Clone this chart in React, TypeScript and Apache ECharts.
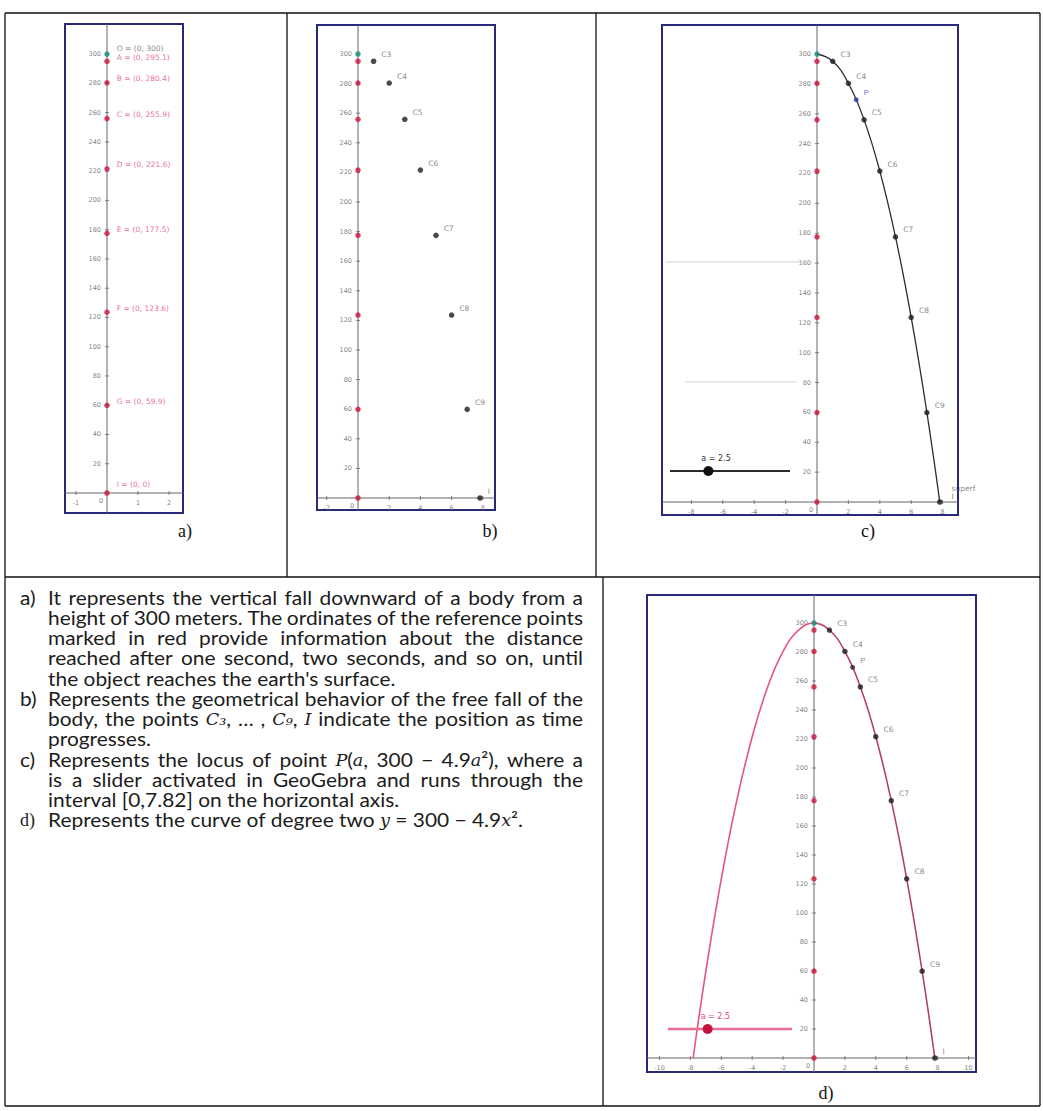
import React, { useEffect, useRef } from "react";
import * as echarts from "echarts";

// Free fall from 300 m: elapsed seconds and height reached at each instant
const fallTimes = [0, 1, 2, 3, 4, 5, 6, 7, 7.82];
const fallHeights = [300, 295.1, 280.4, 255.9, 221.6, 177.5, 123.6, 59.9, 0];
const referenceNames = ["O", "A", "B", "C", "D", "E", "F", "G", "I"];
const positionNames = ["", "C3", "C4", "C5", "C6", "C7", "C8", "C9", "I"];
const heightTicks = [20, 40, 60, 80, 100, 120, 140, 160, 180, 200, 220, 240, 260, 280, 300];
const ticksA = [-1, 0, 1, 2];
const ticksB = [-2, 0, 2, 4, 6, 8];
const ticksC = [-8, -6, -4, -2, 0, 2, 4, 6, 8];
const ticksD = [-10, -8, -6, -4, -2, 0, 2, 4, 6, 8, 10];
const sliderValue = 2.5;
const sliderMax = 7.82;
const pointP = [2.5, 269.4];
const panelCaptions = ["a)", "b)", "c)", "d)"];

const paragraphs = [
  {
    marker: "a)",
    lines: [
      "It represents the vertical fall downward of a body from a",
      "height of 300 meters.  The ordinates of the reference points",
      "marked in red provide information about the distance",
      "reached after one second, two seconds, and so on, until",
      "the object reaches the earth's surface.",
    ],
  },
  {
    marker: "b)",
    lines: [
      "Represents the geometrical behavior of the free fall of the",
      "body, the points {C₃}, … , {C₉}, {I} indicate the position as time",
      "progresses.",
    ],
  },
  {
    marker: "c)",
    lines: [
      "Represents the locus of point {P}({a}, 300 − 4.9{a}²), where a",
      "is a slider activated in GeoGebra and runs through the",
      "interval [0,7.82] on the horizontal axis.",
    ],
  },
  {
    marker: "d)",
    serifMarker: true,
    lines: ["Represents the curve of degree two {y} = 300 − 4.9{x}²."],
  },
];

// Plot boxes of the four GeoGebra views (pixels) and where their origins sit
const boxes = [
  { left: 65, top: 24, right: 183, bottom: 513, ox: 107, oy: 493, sx: 31, sy: 1.463 },
  { left: 317, top: 25, right: 495, bottom: 510, ox: 358, oy: 498, sx: 15.6, sy: 1.48 },
  { left: 662, top: 25, right: 958, bottom: 515, ox: 817, oy: 502, sx: 15.7, sy: 1.4933 },
  { left: 647, top: 595, right: 976, bottom: 1072, ox: 814, oy: 1058, sx: 15.45, sy: 1.45 },
];
const xTickSets = [ticksA, ticksB, ticksC, ticksD];

const AXIS_GRAY = "#666666";
const RED = "#d0143c";
const PINK = "#e2477a";
const TEAL = "#1f8f80";
const TEXT_FONT = "Lato";
const TEXT_SIZE = 19;
const MATH_FONT = "DejaVu Serif";
const MATH_SIZE = 16;
const TEXT_STRETCH = 1.1;

function ranges(b) {
  return {
    xmin: (b.left - b.ox) / b.sx,
    xmax: (b.right - b.ox) / b.sx,
    ymin: (b.oy - b.bottom) / b.sy,
    ymax: (b.oy - b.top) / b.sy,
  };
}

function axesSeries(i) {
  const r = ranges(boxes[i]);
  const common = { xAxisIndex: i, yAxisIndex: i, silent: true };
  const tickLabel = { fontSize: 6.5, color: "#5e5e5e", fontFamily: "DejaVu Sans" };
  return [
    {
      ...common,
      type: "line",
      data: [[r.xmin, 0], [r.xmax, 0]],
      symbol: "none",
      lineStyle: { color: AXIS_GRAY, width: 1 },
      z: 2,
    },
    {
      ...common,
      type: "line",
      data: [[0, r.ymin], [0, r.ymax]],
      symbol: "none",
      lineStyle: { color: AXIS_GRAY, width: 1 },
      z: 2,
    },
    {
      ...common,
      type: "scatter",
      data: heightTicks.map((v) => [0, v]),
      symbol: "rect",
      symbolSize: [4, 1],
      itemStyle: { color: AXIS_GRAY },
      label: {
        show: true,
        position: "left",
        distance: 4,
        ...tickLabel,
        formatter: (p) => String(p.value[1]),
      },
      z: 3,
    },
    {
      ...common,
      type: "scatter",
      data: xTickSets[i].map((v) =>
        v === 0
          ? { value: [0, 0], symbolSize: 0, label: { offset: [-6, 0] } }
          : { value: [v, 0] }
      ),
      symbol: "rect",
      symbolSize: [1, 4],
      itemStyle: { color: AXIS_GRAY },
      label: {
        show: true,
        position: "bottom",
        distance: 4,
        ...tickLabel,
        formatter: (p) => String(p.value[0]),
      },
      z: 3,
    },
  ];
}

function axisPointsSeries(i, withLabels) {
  const common = { xAxisIndex: i, yAxisIndex: i, silent: true, type: "scatter" };
  const labelStyle = {
    show: withLabels,
    position: "right",
    offset: [2, -4],
    fontSize: 7.5,
    fontFamily: "DejaVu Sans",
    formatter: "{b}",
  };
  const last = fallHeights.length - 1;
  return [
    {
      ...common,
      data: fallHeights.slice(1).map((h, k) => ({
        name: `${referenceNames[k + 1]} = (0, ${h})`,
        value: [0, h],
        label: k + 1 === last ? { offset: [2, -9] } : undefined,
      })),
      symbolSize: 5.5,
      itemStyle: { color: RED },
      label: { ...labelStyle, color: PINK },
      z: 6,
    },
    {
      ...common,
      data: [{ name: `${referenceNames[0]} = (0, ${fallHeights[0]})`, value: [0, fallHeights[0]] }],
      symbolSize: 5.5,
      itemStyle: { color: TEAL },
      label: { ...labelStyle, color: "#666", offset: [2, -6] },
      z: 6,
    },
  ];
}

function positionSeries(i, labelColor, lastLabel) {
  return {
    type: "scatter",
    xAxisIndex: i,
    yAxisIndex: i,
    silent: true,
    data: fallTimes.slice(1).map((t, k) => ({
      name: positionNames[k + 1],
      value: [t, fallHeights[k + 1]],
      label: k + 1 === fallTimes.length - 1 && lastLabel ? { formatter: lastLabel, offset: [4, -10] } : undefined,
    })),
    symbolSize: 5.5,
    itemStyle: { color: "#1c1c1c" },
    label: {
      show: true,
      position: "right",
      offset: [0, -7],
      fontSize: 7.5,
      fontFamily: "DejaVu Sans",
      color: labelColor,
      formatter: "{b}",
    },
    z: 7,
  };
}

const fallCurve = fallTimes.map((t, k) => [t, fallHeights[k]]);
const mirroredCurve = fallTimes
  .slice(1)
  .map((t, k) => [-t, fallHeights[k + 1]])
  .reverse()
  .concat(fallCurve);

function buildSeries() {
  const s = [];
  for (let i = 0; i < 4; i++) s.push(...axesSeries(i));

  // a) reference heights on the vertical axis
  s.push(...axisPointsSeries(0, true));

  // b) positions as time goes by
  s.push(...axisPointsSeries(1, false));
  s.push(positionSeries(1, "#666", null));

  // c) locus of P as the slider runs
  s.push(...axisPointsSeries(2, false));
  s.push({
    type: "line",
    xAxisIndex: 2,
    yAxisIndex: 2,
    data: fallCurve,
    smooth: 0.45,
    symbol: "none",
    silent: true,
    lineStyle: { color: "#2e2e2e", width: 1.3 },
    z: 4,
  });
  s.push(positionSeries(2, "#666", "superf\nI"));
  s.push({
    type: "scatter",
    xAxisIndex: 2,
    yAxisIndex: 2,
    silent: true,
    data: [{ name: "P", value: pointP }],
    symbolSize: 5,
    itemStyle: { color: "#2a3aa8" },
    label: {
      show: true,
      position: "right",
      offset: [0, -7],
      fontSize: 7.5,
      color: "#3a4ac0",
      formatter: "{b}",
    },
    z: 8,
  });

  // d) the whole parabola
  s.push(...axisPointsSeries(3, false));
  s.push({
    type: "line",
    xAxisIndex: 3,
    yAxisIndex: 3,
    data: mirroredCurve,
    smooth: 0.45,
    symbol: "none",
    silent: true,
    lineStyle: { color: "#e5557f", width: 1.6 },
    z: 4,
  });
  s.push({
    type: "line",
    xAxisIndex: 3,
    yAxisIndex: 3,
    data: fallCurve,
    smooth: 0.45,
    symbol: "none",
    silent: true,
    lineStyle: { color: "#333", width: 1, opacity: 0.45 },
    z: 5,
  });
  s.push(positionSeries(3, "#666", null));
  s.push({
    type: "scatter",
    xAxisIndex: 3,
    yAxisIndex: 3,
    silent: true,
    data: [{ name: "P", value: pointP }],
    symbolSize: 5,
    itemStyle: { color: "#262626" },
    label: {
      show: true,
      position: "right",
      offset: [0, -7],
      fontSize: 7.5,
      color: "#666",
      formatter: "{b}",
    },
    z: 8,
  });
  return s;
}

function sliderElements(x1, x2, y, lineColor, lineWidth, dotColor, labelColor) {
  const dotX = x1 + (sliderValue / sliderMax) * (x2 - x1);
  return [
    {
      type: "line",
      z: 100,
      shape: { x1, y1: y, x2, y2: y },
      style: { stroke: lineColor, lineWidth },
    },
    {
      type: "circle",
      z: 101,
      shape: { cx: dotX, cy: y, r: 5 },
      style: { fill: dotColor },
    },
    {
      type: "text",
      z: 101,
      x: dotX - 7,
      y: y - 13,
      style: {
        text: `a = ${sliderValue}`,
        fill: labelColor,
        fontSize: 8,
        fontFamily: "DejaVu Sans",
        align: "left",
        verticalAlign: "middle",
        textAlign: "left",
        textVerticalAlign: "middle",
      },
    },
  ];
}

function tableElements() {
  const stroke = { stroke: "#111", lineWidth: 1.3 };
  const lines = [
    [5, 13, 1040, 13],
    [5, 1106, 1040, 1106],
    [5, 13, 5, 1106],
    [1040, 13, 1040, 1106],
    [5, 577, 1040, 577],
    [287, 13, 287, 577],
    [596, 13, 596, 577],
    [603, 577, 603, 1106],
  ];
  return lines.map(([x1, y1, x2, y2]) => ({
    type: "line",
    z: 50,
    shape: { x1, y1, x2, y2 },
    style: stroke,
  }));
}

function captionElements() {
  const spots = [
    [185, 531],
    [490, 531],
    [868, 531],
    [826, 1093],
  ];
  return panelCaptions.map((t, k) => ({
    type: "text",
    z: 60,
    x: spots[k][0],
    y: spots[k][1],
    style: {
      text: t,
      fill: "#111",
      fontSize: 18,
      fontFamily: "Liberation Serif",
      align: "center",
      verticalAlign: "middle",
      textAlign: "center",
      textVerticalAlign: "middle",
    },
  }));
}

function faintLines() {
  const grey = { stroke: "#d4d4d4", lineWidth: 1 };
  return [
    { type: "line", z: 10, shape: { x1: 666, y1: 262, x2: 812, y2: 262 }, style: grey },
    { type: "line", z: 10, shape: { x1: 685, y1: 382, x2: 797, y2: 382 }, style: grey },
  ];
}

function parseWord(w) {
  const segs = [];
  const re = /\{([^}]*)\}|[^{]+/g;
  let m;
  while ((m = re.exec(w))) {
    if (m[1] !== undefined) segs.push({ t: m[1], math: true });
    else segs.push({ t: m[0], math: false });
  }
  return segs;
}

function textElements() {
  const canvas = document.createElement("canvas");
  const ctx = canvas.getContext("2d");
  const fontOf = (seg) =>
    seg.math ? `italic ${MATH_SIZE}px "${MATH_FONT}"` : `${TEXT_SIZE}px "${TEXT_FONT}"`;
  const measure = (seg) => {
    ctx.font = fontOf(seg);
    return ctx.measureText(seg.t).width * TEXT_STRETCH;
  };
  const els = [];
  const x0 = 48;
  const x1 = 583;
  const markerX = 20;
  const top = 597;
  const step = 20.25;
  let lineNo = 0;
  const textStyle = (seg) => ({
    fill: "#1c1c1c",
    fontSize: seg.math ? MATH_SIZE : TEXT_SIZE,
    fontFamily: seg.math ? MATH_FONT : TEXT_FONT,
    fontStyle: seg.math ? "italic" : "normal",
    align: "left",
    verticalAlign: "middle",
    textAlign: "left",
    textVerticalAlign: "middle",
  });
  paragraphs.forEach((para) => {
    const yMarker = top + lineNo * step;
    els.push({
      type: "text",
      z: 60,
      x: markerX,
      y: yMarker,
      scaleX: para.serifMarker ? 1 : TEXT_STRETCH,
      style: {
        text: para.marker,
        fill: "#1c1c1c",
        fontSize: para.serifMarker ? 18 : TEXT_SIZE,
        fontFamily: para.serifMarker ? "Liberation Serif" : TEXT_FONT,
        align: "left",
        verticalAlign: "middle",
        textAlign: "left",
        textVerticalAlign: "middle",
      },
    });
    para.lines.forEach((line, li) => {
      const y = top + lineNo * step;
      const justify = li < para.lines.length - 1;
      const words = line.split(/\s+/).filter(Boolean).map(parseWord);
      const widths = words.map((w) => w.reduce((s, seg) => s + measure(seg), 0));
      const total = widths.reduce((a, b) => a + b, 0);
      const space = measure({ t: " ", math: false });
      const gap = justify && words.length > 1 ? (x1 - x0 - total) / (words.length - 1) : space;
      let x = x0;
      words.forEach((w) => {
        w.forEach((seg) => {
          els.push({
            type: "text",
            z: 60,
            x,
            y: seg.math ? y + 1 : y,
            scaleX: TEXT_STRETCH,
            style: { text: seg.t, ...textStyle(seg) },
          });
          x += measure(seg);
        });
        x += gap;
      });
      lineNo += 1;
    });
  });
  return els;
}

export default function App() {
  const ref = useRef(null);
  useEffect(() => {
    if (!ref.current) return;
    const chart = echarts.init(ref.current, null, { renderer: "svg" });
    const option = {
      animation: false,
      backgroundColor: "#ffffff",
      grid: boxes.map((b) => ({
        left: b.left,
        top: b.top,
        width: b.right - b.left,
        height: b.bottom - b.top,
        show: true,
        backgroundColor: "#ffffff",
        borderColor: "#29297a",
        borderWidth: 2,
      })),
      xAxis: boxes.map((b, i) => {
        const r = ranges(b);
        return { type: "value", gridIndex: i, min: r.xmin, max: r.xmax, show: false };
      }),
      yAxis: boxes.map((b, i) => {
        const r = ranges(b);
        return { type: "value", gridIndex: i, min: r.ymin, max: r.ymax, show: false };
      }),
      series: buildSeries(),
      graphic: {
        elements: [
          ...tableElements(),
          ...faintLines(),
          ...sliderElements(670, 790, 471, "#2a2a2a", 2, "#111", "#333"),
          ...sliderElements(668, 792, 1029, "#ea6f92", 2.5, "#c4123a", "#e2477a"),
          ...captionElements(),
          ...textElements(),
        ],
      },
    };
    chart.setOption(option);
    return () => chart.dispose();
  }, []);
  return (
    <div
      ref={ref}
      style={{ position: "absolute", left: 0, top: 0, width: 1043, height: 1111, background: "#fff" }}
    />
  );
}
